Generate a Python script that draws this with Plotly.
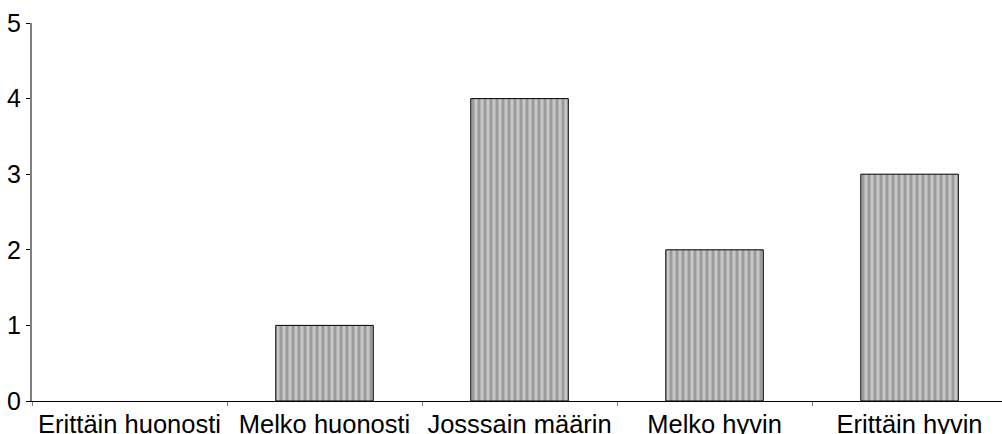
import plotly.graph_objects as go

categories = ["Erittäin huonosti", "Melko huonosti", "Josssain määrin", "Melko hyvin", "Erittäin hyvin"]
values = [0, 1, 4, 2, 3]
y_ticks = [0, 1, 2, 3, 4, 5]

line_widths = [0 if v == 0 else 1 for v in values]

fig = go.Figure(
    go.Bar(
        x=categories,
        y=values,
        marker=dict(
            color="#bcbcbc",
            line=dict(color="#000000", width=line_widths),
            pattern=dict(shape="|", bgcolor="#c8c8c8", fgcolor="#6e6e6e", size=6, solidity=0.5),
        ),
        width=0.5,
    )
)

fig.update_layout(
    width=1002,
    height=434,
    margin=dict(l=32, r=0, t=23, b=33, autoexpand=False),
    paper_bgcolor="white",
    plot_bgcolor="white",
    showlegend=False,
    font=dict(family="Liberation Sans, Arial, sans-serif", size=25, color="black"),
)

fig.update_xaxes(
    range=[-0.5, 4.474],
    tickson="boundaries",
    ticks="outside",
    ticklen=4,
    tickwidth=1,
    tickcolor="#808080",
    showline=True,
    linecolor="black",
    linewidth=1,
    showgrid=False,
    zeroline=False,
    automargin=False,
    tickfont=dict(size=25.5),
)

fig.update_yaxes(
    range=[0, 5],
    tickvals=y_ticks,
    ticks="outside",
    ticklen=4,
    tickwidth=1,
    tickcolor="black",
    showline=True,
    linecolor="#808080",
    linewidth=2,
    showgrid=False,
    zeroline=False,
    automargin=False,
    tickfont=dict(size=25),
)

fig.write_html(
    "out.html",
    config={"displayModeBar": False},
    post_script="document.body.style.margin='0';document.body.style.overflow='hidden';",
)
